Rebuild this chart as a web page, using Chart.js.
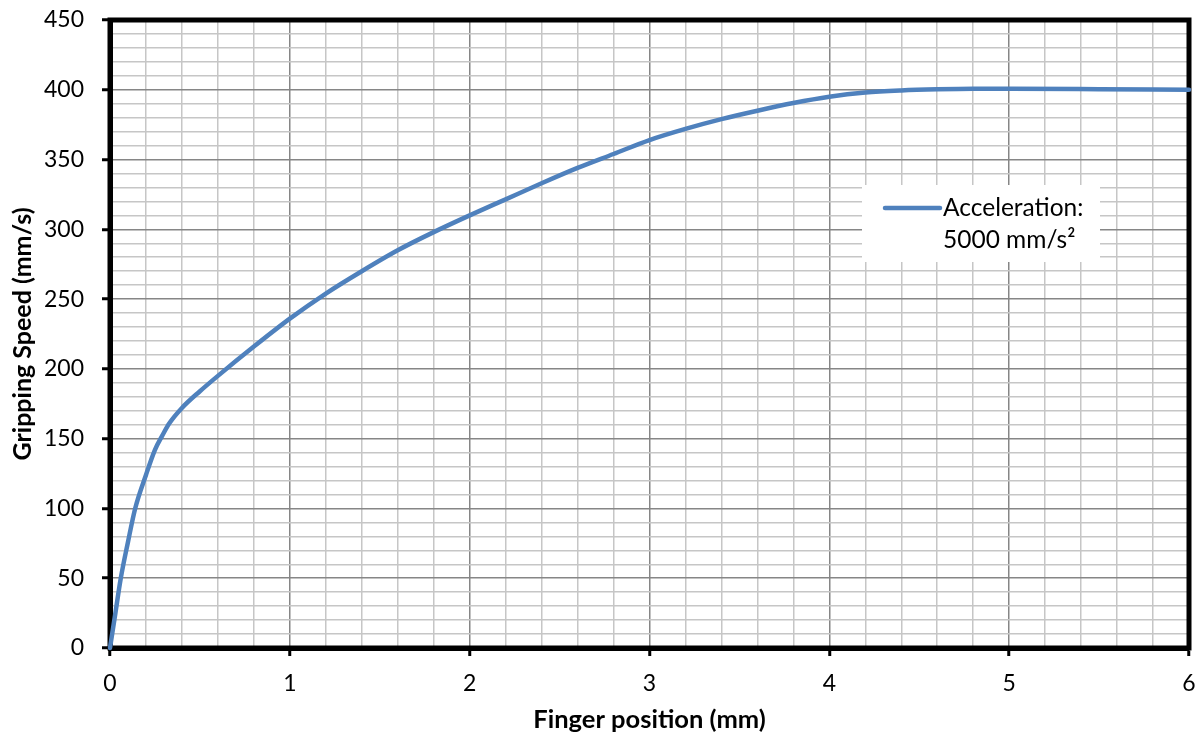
<!DOCTYPE html>
<html>
<head>
<meta charset="utf-8">
<script src="https://cdn.jsdelivr.net/npm/chart.js@4"></script>
<style>
  html, body { margin: 0; padding: 0; background: #ffffff; }
  #wrap { width: 1203px; height: 740px; }
</style>
</head>
<body>
<div id="wrap"><canvas id="c" width="1203" height="740"></canvas></div>
<script>
// ---- data ----
const positionsMm = [0, 0.03, 0.06, 0.1, 0.14, 0.2, 0.25, 0.29, 0.33, 0.4, 0.5, 0.6, 0.8, 1.0, 1.2, 1.4, 1.6, 1.8, 2.0, 2.2, 2.4, 2.6, 2.8, 3.0, 3.2, 3.4, 3.6, 3.8, 4.0, 4.2, 4.4, 4.6, 4.8, 5.0, 5.5, 6.0];
const speedsMmS   = [0, 25, 50, 76, 100, 124, 142, 152, 161, 172, 184, 195, 216, 236, 254, 270, 285, 298, 310, 321.5, 333, 344, 354, 364, 372, 379, 385, 390.5, 395, 398, 399.5, 400.3, 400.7, 400.7, 400.4, 400];
const seriesLabel = 'Acceleration: 5000 mm/s²';
const legendLines = ['Acceleration:', '5000 mm/s²'];
const xTitle = 'Finger position (mm)';
const yTitle = 'Gripping Speed (mm/s)';
const xRange = [0, 6];
const yRange = [0, 450];

const FONT = 'Lato, "Open Sans", sans-serif';
const LINE_COLOR = '#4f81bd';

const points = positionsMm.map((x, i) => ({ x: x, y: speedsMmS[i] }));

const isMultiple = (v, m) => Math.abs(v / m - Math.round(v / m)) < 1e-6;

const frameAndLegend = {
  id: 'frameAndLegend',
  beforeDatasetsDraw(chart) {
    const { ctx, chartArea: a } = chart;
    ctx.save();
    ctx.strokeStyle = '#000';
    ctx.lineWidth = 5;
    ctx.strokeRect(a.left, a.top, a.right - a.left, a.bottom - a.top);
    ctx.restore();
  },
  afterDatasetsDraw(chart) {
    const { ctx, chartArea: a } = chart;
    const bx = a.right - 327, by = a.top + 165, bw = 238, bh = 77;
    ctx.save();
    ctx.fillStyle = '#ffffff';
    ctx.fillRect(bx, by, bw, bh);
    ctx.strokeStyle = chart.data.datasets[0].borderColor;
    ctx.lineWidth = 4.5;
    ctx.lineCap = 'round';
    ctx.beginPath();
    ctx.moveTo(bx + 23, by + 23);
    ctx.lineTo(bx + 78, by + 23);
    ctx.stroke();
    ctx.fillStyle = '#000';
    ctx.font = '24.5px ' + FONT;
    ctx.textBaseline = 'alphabetic';
    ctx.textAlign = 'left';
    ctx.fillText(legendLines[0], bx + 81, by + 31);
    ctx.fillText(legendLines[1], bx + 81, by + 63);
    ctx.restore();
  }
};

new Chart(document.getElementById('c'), {
  type: 'scatter',
  data: {
    datasets: [{
      label: seriesLabel,
      data: points,
      showLine: true,
      borderColor: LINE_COLOR,
      backgroundColor: LINE_COLOR,
      borderWidth: 4.5,
      pointRadius: 0,
      cubicInterpolationMode: 'monotone',
      borderCapStyle: 'round',
      clip: false
    }]
  },
  options: {
    responsive: false,
    animation: false,
    layout: { padding: { top: 20, right: 14, left: 0, bottom: 0 } },
    plugins: {
      legend: { display: false },
      tooltip: { enabled: false }
    },
    scales: {
      x: {
        type: 'linear',
        min: xRange[0],
        max: xRange[1],
        afterFit(scale) {
          scale.height = 92;
          scale.paddingLeft = 0;
          scale.paddingRight = 0;
        },
        ticks: {
          stepSize: 0.2,
          autoSkip: false,
          maxRotation: 0,
          padding: 14,
          color: '#000',
          font: { family: FONT, size: 23 },
          callback: (v) => isMultiple(v, 1) ? String(Math.round(v)) : ''
        },
        grid: {
          color: (c) => isMultiple(c.tick.value, 1) ? '#868686' : '#c6c6c6',
          lineWidth: 1.5,
          tickLength: 8,
          tickColor: (c) => isMultiple(c.tick.value, 1) ? '#000' : 'rgba(0,0,0,0)',
          tickWidth: 3
        },
        border: { display: true, color: '#000', width: 5 },
        title: {
          display: true,
          text: xTitle,
          color: '#000',
          font: { family: FONT, size: 25.5, weight: 'bold' },
          padding: { top: 0, bottom: 5 }
        }
      },
      y: {
        type: 'linear',
        min: yRange[0],
        max: yRange[1],
        afterFit(scale) {
          scale.width = 110;
          scale.paddingTop = 0;
          scale.paddingBottom = 0;
        },
        ticks: {
          stepSize: 10,
          autoSkip: false,
          padding: 18,
          color: '#000',
          font: { family: FONT, size: 23 },
          callback: (v) => isMultiple(v, 50) ? String(Math.round(v)) : ''
        },
        grid: {
          color: (c) => isMultiple(c.tick.value, 50) ? '#868686' : '#c6c6c6',
          lineWidth: 1.5,
          tickLength: 8,
          tickColor: (c) => isMultiple(c.tick.value, 50) ? '#000' : 'rgba(0,0,0,0)',
          tickWidth: 3
        },
        border: { display: true, color: '#000', width: 5 },
        title: {
          display: true,
          text: yTitle,
          color: '#000',
          font: { family: FONT, size: 25, weight: 'bold' },
          padding: { top: 8, bottom: 0 }
        }
      }
    }
  },
  plugins: [frameAndLegend]
});
</script>
</body>
</html>
